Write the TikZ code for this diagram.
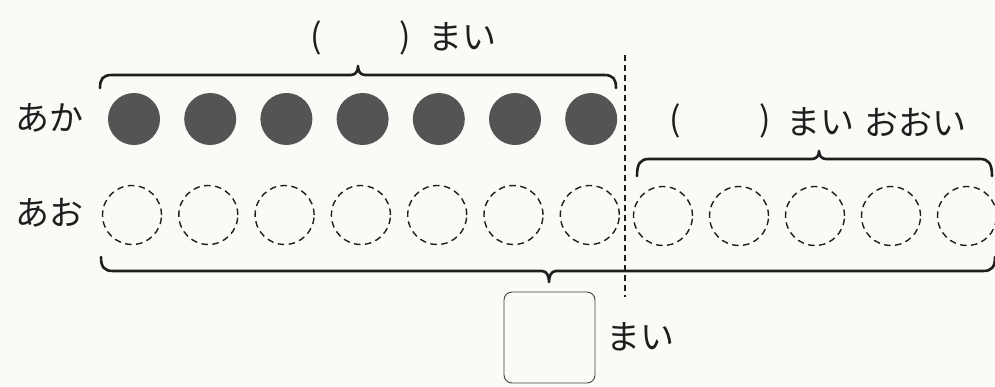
\documentclass[tikz,border=0pt]{standalone}
\usepackage{fontspec}
\newfontfamily\jp{Noto Sans CJK JP}
\definecolor{ink}{HTML}{1E1E1E}
\definecolor{redfill}{HTML}{545454}
\definecolor{bgc}{HTML}{FAFAF6}
% #1 left x, #2 right x, #3 line y, #4 end offset, #5 tip offset, #6 tip x
\newcommand\drawbrace[6]{%
 \draw[brc] ({#1},{#3+(#4)}) .. controls ({#1},{#3+0.3*(#4)}) and ({#1+3},{#3}) .. ({#1+12},{#3})
  -- ({#6-7},{#3}) .. controls ({#6-2},{#3}) and ({#6},{#3+0.5*(#5)}) .. ({#6},{#3+(#5)})
  .. controls ({#6},{#3+0.5*(#5)}) and ({#6+2},{#3}) .. ({#6+7},{#3})
  -- ({#2-12},{#3}) .. controls ({#2-3},{#3}) and ({#2},{#3+0.3*(#4)}) .. ({#2},{#3+(#4)});}
\begin{document}
\begin{tikzpicture}[x=1pt,y=-1pt,
  lbl/.style={font=\jp\fontsize{34}{40}\selectfont, text=ink, inner sep=0pt},
  redc/.style={circle, fill=redfill, minimum size=52pt, inner sep=0pt},
  bluec/.style={circle, draw=ink, dash pattern=on 6.5pt off 4.5pt, line width=1.4pt, minimum size=59pt, inner sep=0pt},
  brc/.style={line width=2.6pt, draw=ink, line cap=round, line join=round},
  vdash/.style={draw=ink, dash pattern=on 6pt off 4pt, line width=1.2pt},
  ansbox/.style={draw=ink!85, rounded corners=8pt, minimum width=91pt, minimum height=91pt, line width=0.9pt, inner sep=0pt}
]
\fill[bgc] (0,0) rectangle (995,386);
\useasboundingbox (0,0) rectangle (995,386);
% circles
\foreach \i in {1,...,7} \node[redc] (r\i) at ({134+76.2*(\i-1)},119) {};
\foreach \i in {1,...,7} \node[bluec] (b\i) at ({132+76.3*(\i-1)},215) {};
\foreach \i in {8,...,12} \node[bluec] (b\i) at ({663+76*(\i-8)},216) {};
% divider
\coordinate (vt) at (625,55);
\coordinate (vb) at (625,297);
\draw[vdash] (vt) -- (vb);
% braces
\drawbrace{100}{616}{75}{13}{-9}{358}
\drawbrace{637}{992}{159}{17}{-8}{819}
\drawbrace{101}{995}{271}{-14}{11}{549}
% answer box
\node[ansbox] (box) at (549.5,337.5) {};
% texts
\node[lbl, anchor=west] (aka) at (15,118) {あか};
\node[lbl, anchor=west] (ao) at (15,213) {あお};
\node[lbl] (lp1) at (316,38) {(};
\node[lbl] (rp1) at (405,38) {)};
\node[lbl, anchor=west] (mai1) at (428,37) {まい};
\node[lbl] (lp2) at (675,121) {(};
\node[lbl] (rp2) at (765,121) {)};
\node[lbl, anchor=west] (mai2) at (786,122) {まい};
\node[lbl, anchor=west] (ooi) at (864,122) {おおい};
\node[lbl, anchor=west] (mai3) at (606,337) {まい};
\end{tikzpicture}
\end{document}
